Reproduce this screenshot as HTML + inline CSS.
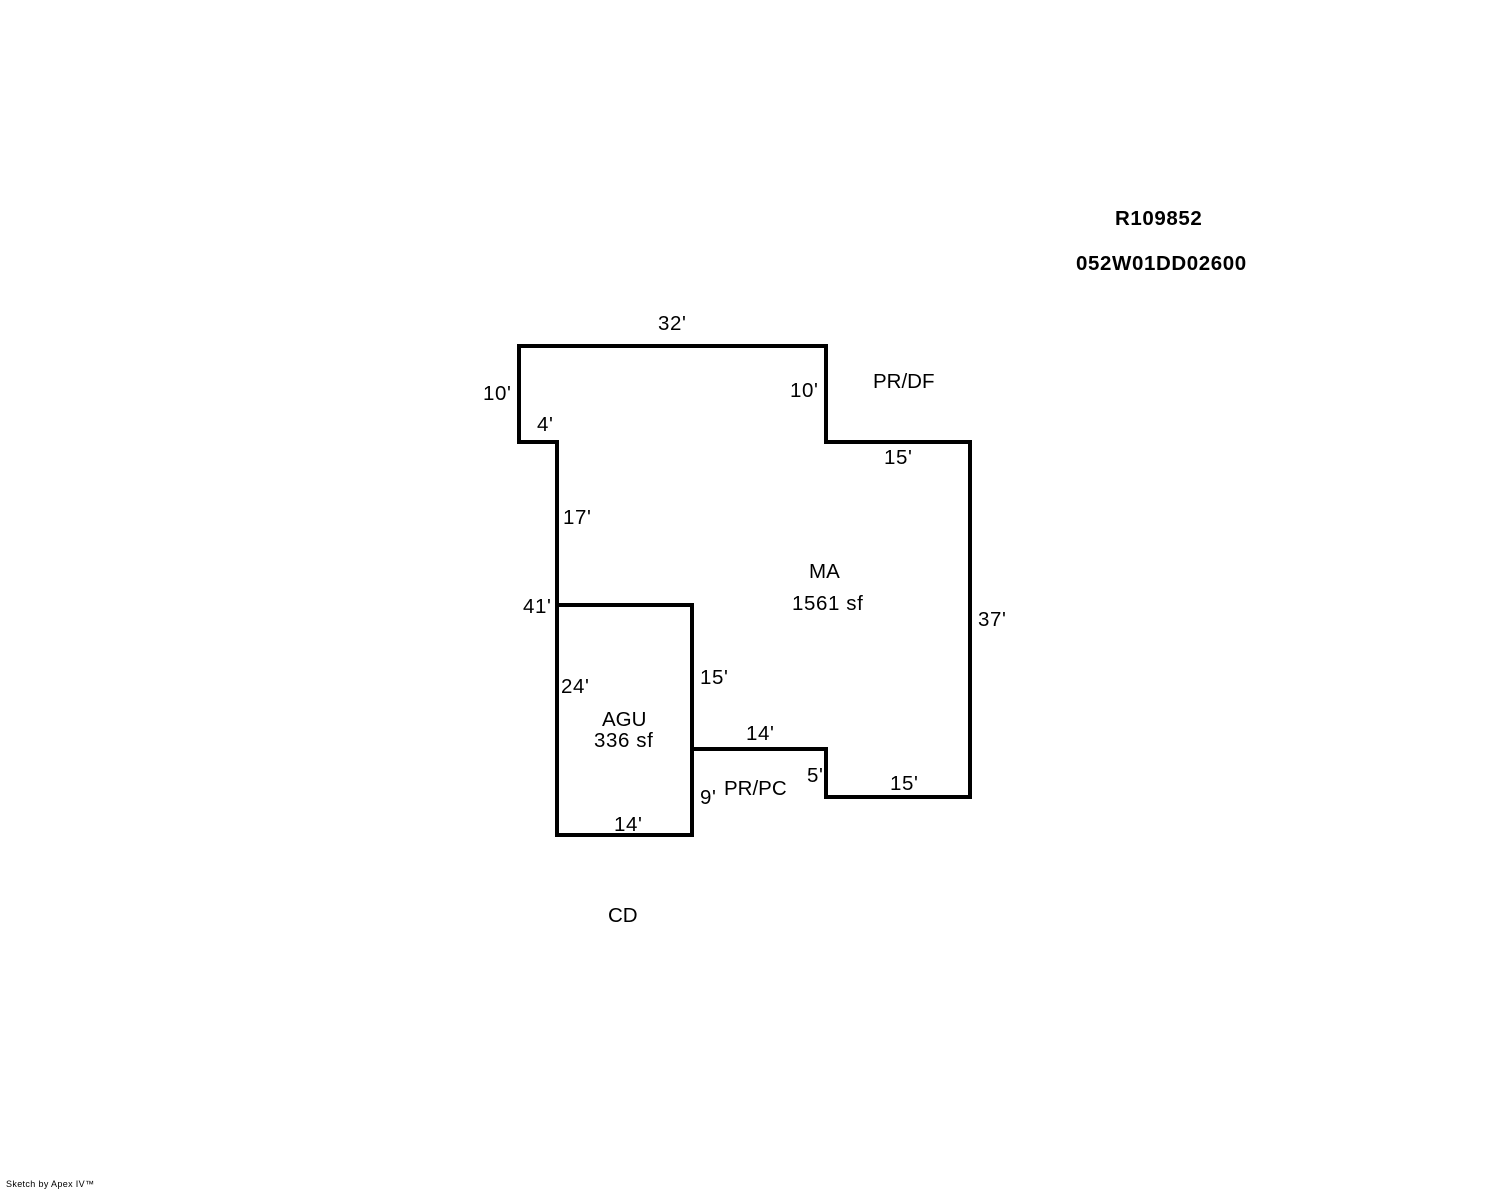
<!DOCTYPE html>
<html><head><meta charset="utf-8"><style>
html,body{margin:0;padding:0;background:#fff}
svg{display:block}
text{font-family:"Liberation Sans",Arial,sans-serif;font-size:20.5px;fill:#000}
.n{letter-spacing:.6px}
.b{font-weight:bold;letter-spacing:.6px}
</style></head><body>
<svg width="1488" height="1190" viewBox="0 0 1488 1190" xmlns="http://www.w3.org/2000/svg">
<rect width="1488" height="1190" fill="#fff"/>
<g fill="none" stroke="#000" stroke-width="4" stroke-linejoin="miter" shape-rendering="crispEdges">
<path d="M519 346H826V442H970V797H826V749H692V835H557V442H519Z"/>
<path d="M557 605H692V749"/>
</g>
<text class="n" x="658" y="330">32'</text>
<text class="n" x="483" y="400">10'</text>
<text class="n" x="537" y="431">4'</text>
<text class="n" x="563" y="524">17'</text>
<text class="n" x="523" y="613">41'</text>
<text class="n" x="790" y="397">10'</text>
<text x="873" y="388">PR/DF</text>
<text class="n" x="884" y="464">15'</text>
<text x="809" y="578">MA</text>
<text class="n" x="792" y="610">1561 sf</text>
<text class="n" x="978" y="626">37'</text>
<text class="n" x="700" y="684">15'</text>
<text class="n" x="561" y="693">24'</text>
<text x="602" y="726">AGU</text>
<text class="n" x="594" y="747">336 sf</text>
<text class="n" x="746" y="740">14'</text>
<text class="n" x="807" y="782">5'</text>
<text class="n" x="700" y="804">9'</text>
<text x="724" y="795">PR/PC</text>
<text class="n" x="614" y="831">14'</text>
<text class="n" x="890" y="790">15'</text>
<text x="608" y="922">CD</text>
<text class="b" x="1115" y="225">R109852</text>
<text class="b" x="1076" y="270">052W01DD02600</text>
<text x="6" y="1187" style="font-size:9px;letter-spacing:.35px">Sketch by Apex IV™</text>
</svg>
</body></html>
